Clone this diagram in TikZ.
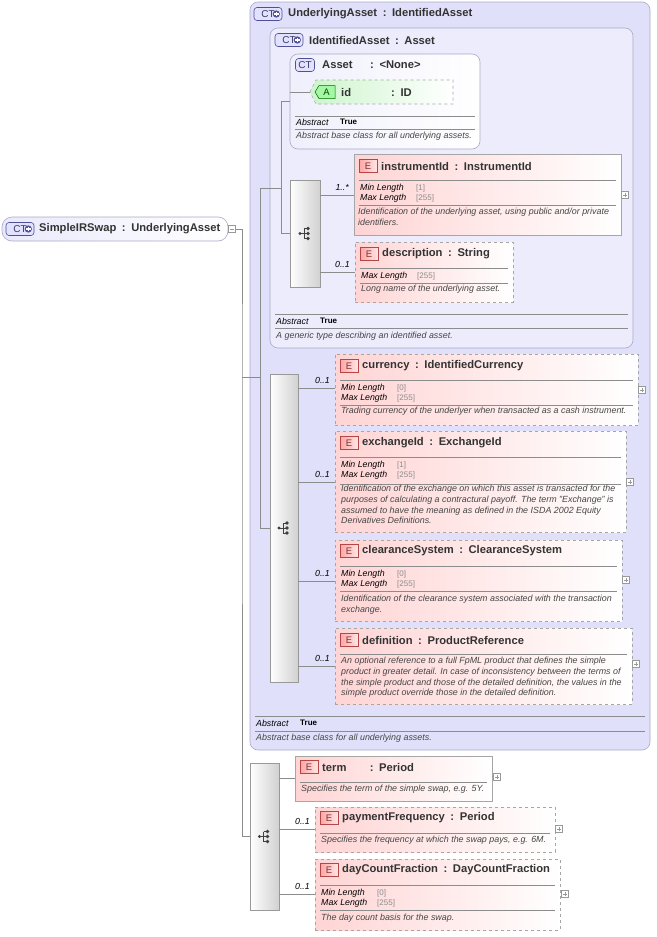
\documentclass[tikz,border=0pt]{standalone}
\usepackage{fontspec}
\setmainfont{Liberation Sans}
\usetikzlibrary{positioning}

\definecolor{ctfill}{RGB}{224,224,250}
\definecolor{ctline}{RGB}{170,170,200}
\definecolor{ctbadge}{RGB}{80,80,150}
\definecolor{epink}{RGB}{255,212,212}
\definecolor{ered}{RGB}{180,70,70}
\definecolor{agreen}{RGB}{205,245,205}
\definecolor{txtgray}{RGB}{70,70,70}

\tikzset{
  conn/.style={draw=black!45, line width=0.5pt},
  ctbox/.style={draw=ctline, rounded corners=8pt, line width=0.6pt},
  elembox/.style={draw=black!35, line width=0.6pt, left color=epink, right color=white, inner sep=0pt},
  seqbox/.style={draw=black!40, line width=0.6pt, left color=white, right color=black!18, inner sep=0pt},
  sepline/.style={draw=black!45, line width=0.4pt},
  hdr/.style={font=\bfseries\fontsize{11.2}{13}\selectfont, anchor=west, inner sep=0pt, text=black!80},
  prop/.style={font=\itshape\fontsize{8.8}{10}\selectfont, anchor=west, inner sep=0pt},
  pval/.style={font=\fontsize{8}{10}\selectfont, anchor=west, inner sep=0pt, text=black!45},
  desc/.style={font=\itshape\fontsize{8.9}{10.7}\selectfont, anchor=north west, inner sep=0pt, align=left, text=txtgray},
  mult/.style={font=\itshape\fontsize{8.8}{10}\selectfont, inner sep=0pt, anchor=south east},
  abst/.style={font=\bfseries\fontsize{8}{10}\selectfont, anchor=west, inner sep=0pt},
  ebadge/.style={draw=ered, line width=0.5pt, left color=red!35, right color=red!10, minimum width=18pt, minimum height=13pt, inner sep=0pt, font=\fontsize{9.5}{10}\selectfont, text=ered!70!black},
  ctb/.style={draw=ctbadge, rounded corners=3pt, line width=0.6pt, fill=ctfill!70!blue!30, minimum width=22pt, minimum height=13pt, inner sep=0pt, font=\fontsize{10}{10}\selectfont, text=ctbadge!70!black},
}

% element box: name, x1, y1, x2, y2, extra style
\newcommand{\elem}[6]{%
  \node[elembox,#6,minimum width={(#4-#2)*1pt},minimum height={(#5-#3)*1pt}] (#1) at ({(#2+#4)/2},{(#3+#5)/2}) {};}
% element header: x, y, name, type
\newcommand{\ehead}[4]{%
  \node[ebadge] at (#1+14,#2) {E};
  \node[hdr] at (#1+27,#2) {#3\enspace:\enspace#4};}
% property line: x, y, label, value
\newcommand{\eprop}[4]{%
  \node[prop] at (#1+6,#2) {#3};
  \node[pval] at (#1+62,#2) {[#4]};}
% separator: x1, x2, y
\newcommand{\esep}[3]{\draw[sepline] (#1+5,#3) -- (#2-5,#3);}
% expand box: x, y, sign
\newcommand{\xbox}[3]{%
  \draw[black!40, fill=white, line width=0.4pt] (#1-3.5,#2-3.5) rectangle (#1+3.5,#2+3.5);
  \draw[black!40, line width=0.4pt] (#1-2,#2) -- (#1+2,#2);
  \ifx#3+\draw[black!40, line width=0.4pt] (#1,#2-2) -- (#1,#2+2);\fi}
% sequence box with icon: name, x1, y1, x2, y2
\newcommand{\seqbox}[5]{%
  \node[seqbox,minimum width={(#4-#2)*1pt},minimum height={(#5-#3)*1pt}] (#1) at ({(#2+#4)/2},{(#3+#5)/2}) {};
  \begin{scope}[shift={(#1.center)}, black!75, line width=0.6pt]
    \fill (-5,0) circle (1.6);
    \draw (-5,0) -- (-1,0) (-1,-5) -- (-1,5) (-1,-5) -- (3,-5) (-1,5) -- (3,5) (-1,0) -- (3,0);
    \fill (3,-5) circle (1.8) (3,0) circle (1.8) (3,5) circle (1.8);
  \end{scope}}
% complex type badge: x, y, width (wide ones get the plus mark)
\newcommand{\ctbadge}[3]{%
  \node[ctb, minimum width=#3] (ctb) at (#1,#2) {CT\ifdim#3>20pt\hspace{10pt}\fi};
  \ifdim#3>20pt
    \fill[ctbadge] ([xshift=-6pt]ctb.east) circle (3.6pt);
    \draw[white, line width=1.1pt] ([xshift=-8.2pt]ctb.east) -- ([xshift=-3.8pt]ctb.east) ([xshift=-6pt,yshift=-2.2pt]ctb.east) -- ([xshift=-6pt,yshift=2.2pt]ctb.east);
  \fi}

\begin{document}
\begin{tikzpicture}[x=1pt, y=-1pt]
  \useasboundingbox (0,0) rectangle (656,937);

  % containers
  \node[ctbox, fill=ctfill, minimum width=400pt, minimum height=748pt] (ua) at (450,376) {};
  \node[ctbox, fill=ctfill!60!white, minimum width=363pt, minimum height=320pt] (ia) at (451.5,188) {};
  \node[ctbox, left color=ctfill!50!white, right color=white, minimum width=190pt, minimum height=95pt] (asset) at (385,101.5) {};
  \node[ctbox, rounded corners=10pt, left color=ctfill!70!white, right color=white, minimum width=226pt, minimum height=24pt] (sirs) at (115,229) {};

  % root
  \ctbadge{20}{229}{28pt}
  \node[hdr] at (39,229) {SimpleIRSwap\enspace:\enspace UnderlyingAsset};
  \xbox{232}{229}{-}
  \coordinate (minus) at (235.5,229);

  % UnderlyingAsset
  \ctbadge{268}{14}{28pt}
  \node[hdr] at (288,14) {UnderlyingAsset\enspace:\enspace IdentifiedAsset};
  \esep{250}{650}{716}
  \node[prop] at (256,723) {Abstract};
  \node[abst] at (300,722.5) {True};
  \esep{250}{650}{731}
  \node[desc] at (256,734) {Abstract base class for all underlying assets.};

  % IdentifiedAsset
  \ctbadge{289}{40}{28pt}
  \node[hdr] at (309,40) {IdentifiedAsset\enspace:\enspace Asset};
  \esep{270}{633}{314}
  \node[prop] at (276,321) {Abstract};
  \node[abst] at (320,320.5) {True};
  \esep{270}{633}{328}
  \node[desc] at (276,332) {A generic type describing an identified asset.};

  % Asset
  \ctbadge{305}{65}{19pt}
  \node[hdr] at (322,65) {\makebox[48pt][l]{Asset}:\enspace<None>};
  \shade[left color=agreen, right color=white] (310,92) -- (316,80) -- (453,80) -- (453,104) -- (316,104) -- cycle;
  \draw[black!35, dashed, line width=0.6pt] (310,92) -- (316,80) -- (453,80) -- (453,104) -- (316,104) -- cycle;
  \coordinate (id-in) at (310,92);
  \draw[green!40!black, fill=agreen!80!green, line width=0.5pt] (315,92) -- (319,85.5) -- (335,85.5) -- (335,98.5) -- (319,98.5) -- cycle;
  \node[font=\fontsize{9.5}{10}\selectfont, text=green!30!black] at (326.5,92) {A};
  \node[hdr] at (341,92) {\makebox[50pt][l]{id}:\enspace ID};
  \esep{290}{480}{116}
  \node[prop] at (296,122) {Abstract};
  \node[abst] at (340,121.5) {True};
  \esep{290}{480}{129}
  \node[desc] at (296,132) {Abstract base class for all underlying assets.};

  % sequence 1
  \seqbox{seq1}{290}{180}{320}{287}
  \elem{inst}{354}{154}{621}{235}{}
  \ehead{354}{166}{instrumentId}{InstrumentId}
  \esep{354}{621}{180}
  \eprop{354}{188}{Min Length}{1}
  \eprop{354}{198}{Max Length}{255}
  \esep{354}{621}{205}
  \node[desc] at (358,208) {Identification of the underlying asset, using public and/or private\\identifiers.};
  \xbox{625}{195}{+}
  \coordinate (inst-in) at (354,195);

  \elem{descr}{355}{242}{513}{302}{dashed}
  \ehead{355}{254}{description}{String}
  \esep{355}{513}{268}
  \eprop{355}{276}{Max Length}{255}
  \esep{355}{513}{283}
  \node[desc] at (361,285) {Long name of the underlying asset.};
  \coordinate (descr-in) at (355,272);

  % sequence 2
  \seqbox{seq2}{270}{374}{298}{682}
  \elem{cur}{335}{354}{638}{425}{dashed}
  \ehead{335}{366}{currency}{IdentifiedCurrency}
  \esep{335}{638}{380}
  \eprop{335}{388}{Min Length}{0}
  \eprop{335}{398}{Max Length}{255}
  \esep{335}{638}{405}
  \node[desc] at (341,407) {Trading currency of the underlyer when transacted as a cash instrument.};
  \xbox{642}{390}{+}
  \coordinate (cur-in) at (335,388);

  \elem{exch}{335}{431}{626}{532}{dashed}
  \ehead{335}{443}{exchangeId}{ExchangeId}
  \esep{335}{626}{457}
  \eprop{335}{465}{Min Length}{1}
  \eprop{335}{475}{Max Length}{255}
  \esep{335}{626}{484}
  \node[desc] at (341,485) {Identification of the exchange on which this asset is transacted for the\\purposes of calculating a contractural payoff. The term "Exchange" is\\assumed to have the meaning as defined in the ISDA 2002 Equity\\Derivatives Definitions.};
  \xbox{630}{482}{+}
  \coordinate (exch-in) at (335,482);

  \elem{clr}{335}{540}{622}{621}{dashed}
  \ehead{335}{551}{clearanceSystem}{ClearanceSystem}
  \esep{335}{622}{566}
  \eprop{335}{574}{Min Length}{0}
  \eprop{335}{584}{Max Length}{255}
  \esep{335}{622}{591}
  \node[desc] at (341,595) {Identification of the clearance system associated with the transaction\\exchange.};
  \xbox{626}{580}{+}
  \coordinate (clr-in) at (335,581);

  \elem{defn}{335}{628}{632}{704}{dashed}
  \ehead{335}{640}{definition}{ProductReference}
  \esep{335}{632}{654}
  \node[desc] at (341,657) {An optional reference to a full FpML product that defines the simple\\product in greater detail. In case of inconsistency between the terms of\\the simple product and those of the detailed definition, the values in the\\simple product override those in the detailed definition.};
  \xbox{636}{664}{+}
  \coordinate (defn-in) at (335,666);

  % sequence 3
  \seqbox{seq3}{250}{763}{279}{910}
  \elem{term}{295}{756}{492}{801}{}
  \ehead{295}{767}{\makebox[42pt][l]{term}}{Period}
  \esep{295}{492}{782}
  \node[desc] at (301,785) {Specifies the term of the simple swap, e.g. 5Y.};
  \xbox{497}{777}{+}
  \coordinate (term-in) at (295,778);

  \elem{payf}{315}{807}{555}{852}{dashed}
  \ehead{315}{818}{paymentFrequency}{Period}
  \esep{315}{555}{833}
  \node[desc] at (321,836) {Specifies the frequency at which the swap pays, e.g. 6M.};
  \xbox{559}{829}{+}
  \coordinate (payf-in) at (315,829);

  \elem{dcf}{315}{859}{560}{930}{dashed}
  \ehead{315}{870}{dayCountFraction}{DayCountFraction}
  \esep{315}{560}{885}
  \eprop{315}{893}{Min Length}{0}
  \eprop{315}{903}{Max Length}{255}
  \esep{315}{560}{910}
  \node[desc] at (321,914) {The day count basis for the swap.};
  \xbox{565}{894}{+}
  \coordinate (dcf-in) at (315,894);

  % connectors
  \coordinate (spine) at (242,377);
  \coordinate (uaj) at (260,377);
  \coordinate (iaj) at (281,188);
  \draw[conn] (minus) -| (spine) |- (seq3.west);
  \draw[conn] (spine) -- (uaj);
  \draw[conn] (uaj) |- (ia.west);
  \draw[conn] (uaj) |- (seq2.west);
  \draw[conn] (ia.west) -- (iaj);
  \draw[conn] (iaj) |- (asset.west);
  \draw[conn] (iaj) |- (seq1.west);
  \draw[conn] (asset.west |- id-in) -- (id-in);
  \foreach \s/\e/\m in {seq1/inst/1..*, seq1/descr/0..1, seq2/cur/0..1, seq2/exch/0..1, seq2/clr/0..1, seq2/defn/0..1, seq3/term/, seq3/payf/0..1, seq3/dcf/0..1} {
    \draw[conn] (\s.east |- \e-in) -- (\e-in);
    \node[mult] at ([xshift=-5pt, yshift=4pt]\e-in) {\m};
  }
\end{tikzpicture}
\end{document}
